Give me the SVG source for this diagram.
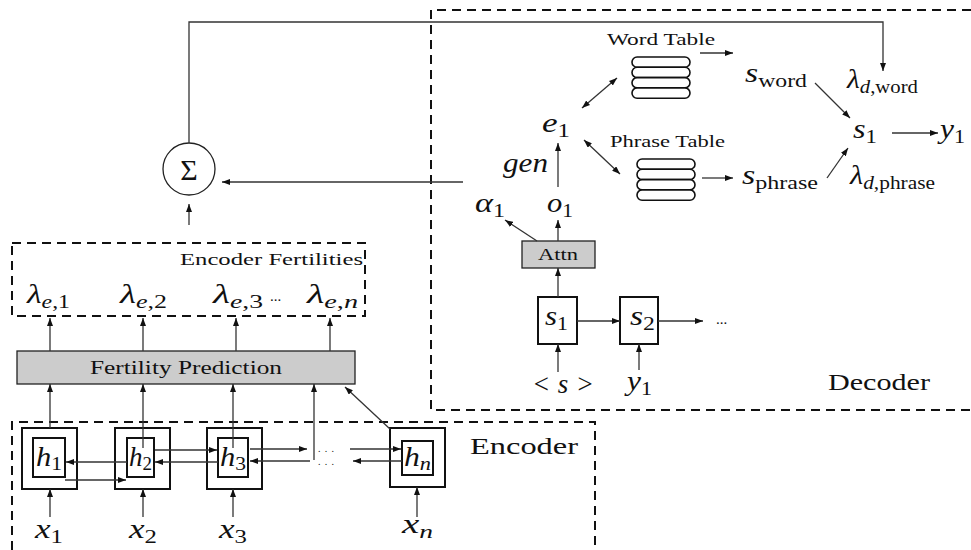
<svg xmlns="http://www.w3.org/2000/svg" width="971" height="550" viewBox="0 0 971 550" font-family="'Liberation Serif','DejaVu Serif','Times New Roman',serif">
<style>
text{font-family:'Liberation Serif','DejaVu Serif','Times New Roman',serif;fill:#111}
.m{font-style:italic;font-size:27px}
.sub{font-size:19px;font-style:normal}
.si{font-style:italic}
.c{stroke:#333;stroke-width:1.3;fill:none}
.d{stroke:#111;stroke-width:2;stroke-dasharray:9 6;fill:none}
.box{fill:#fff;stroke:#111;stroke-width:2}
.gray{fill:#ccc;stroke:#222;stroke-width:1.3}
.cap{fill:#fff;stroke:#111;stroke-width:1.6}
</style>
<defs>
<marker id="a" viewBox="0 0 8 6" refX="8" refY="3" markerWidth="8" markerHeight="6" markerUnits="userSpaceOnUse" orient="auto-start-reverse">
<path d="M0,0 L8,3 L0,6 z" fill="#111"/>
</marker>
</defs>

<g id="regions">
<path class="d" d="M971,10 H431 V410 H971"/>
<path class="d" d="M12,550 V422 H595 V550"/>
<rect class="d" x="12" y="243" width="353" height="73"/>
<text x="470" y="454" font-size="24" textLength="108" lengthAdjust="spacingAndGlyphs">Encoder</text>
<text x="828" y="390" font-size="24" textLength="102" lengthAdjust="spacingAndGlyphs">Decoder</text>
<text x="180" y="265" font-size="16" textLength="183" lengthAdjust="spacingAndGlyphs">Encoder Fertilities</text>
</g>

<g id="sigma">
<circle cx="189" cy="169" r="26" fill="#fff" stroke="#222" stroke-width="1.3"/>
<text x="189" y="180" font-size="30" text-anchor="middle">Σ</text>
</g>

<g id="fertilities">
<text class="m" x="27" y="303" textLength="43" lengthAdjust="spacingAndGlyphs">λ<tspan class="sub" dy="5"><tspan class="si">e</tspan>,1</tspan></text>
<text class="m" x="120" y="303" textLength="47" lengthAdjust="spacingAndGlyphs">λ<tspan class="sub" dy="5"><tspan class="si">e</tspan>,2</tspan></text>
<text class="m" x="213" y="303" textLength="50" lengthAdjust="spacingAndGlyphs">λ<tspan class="sub" dy="5"><tspan class="si">e</tspan>,3</tspan></text>
<text x="270" y="301" font-size="15">...</text>
<text class="m" x="307" y="303" textLength="51" lengthAdjust="spacingAndGlyphs">λ<tspan class="sub" dy="5"><tspan class="si">e</tspan>,<tspan class="si">n</tspan></tspan></text>
</g>

<g id="fertility-prediction">
<rect class="gray" x="17" y="351" width="338" height="33"/>
<text x="90" y="374" font-size="19" textLength="192" lengthAdjust="spacingAndGlyphs">Fertility Prediction</text>
</g>

<g id="h1">
<rect class="box" x="22" y="428" width="55" height="61" stroke-width="2.5"/>
<rect class="box" x="33" y="438" width="32" height="39"/>
<text class="m" x="36" y="466" font-size="24" textLength="26" lengthAdjust="spacingAndGlyphs">h<tspan class="sub" font-size="17" dy="4">1</tspan></text>
<text class="m" x="35" y="538" font-size="25" textLength="28" lengthAdjust="spacingAndGlyphs">x<tspan class="sub" font-size="18" dy="5">1</tspan></text>
</g>
<g id="h2">
<rect class="box" x="115" y="428" width="55" height="61" stroke-width="2.5"/>
<rect class="box" x="127" y="438" width="27" height="39"/>
<text class="m" x="129" y="466" font-size="24" textLength="23" lengthAdjust="spacingAndGlyphs">h<tspan class="sub" font-size="17" dy="4">2</tspan></text>
<text class="m" x="129" y="538" font-size="25" textLength="28" lengthAdjust="spacingAndGlyphs">x<tspan class="sub" font-size="18" dy="5">2</tspan></text>
</g>
<g id="h3">
<rect class="box" x="207" y="428" width="55" height="61" stroke-width="2.5"/>
<rect class="box" x="218" y="438" width="30" height="39"/>
<text class="m" x="220" y="466" font-size="24" textLength="26" lengthAdjust="spacingAndGlyphs">h<tspan class="sub" font-size="17" dy="4">3</tspan></text>
<text class="m" x="219" y="538" font-size="25" textLength="28" lengthAdjust="spacingAndGlyphs">x<tspan class="sub" font-size="18" dy="5">3</tspan></text>
</g>
<g id="dots">
<text x="318" y="452" font-size="10" textLength="16" lengthAdjust="spacing">...</text>
<text x="318" y="465" font-size="10" textLength="16" lengthAdjust="spacing">...</text>
</g>
<g id="hn">
<rect class="box" x="390" y="428" width="55" height="59" stroke-width="2.5"/>
<rect class="box" x="402" y="441" width="31" height="34"/>
<text class="m" x="404" y="466" font-size="24" textLength="27" lengthAdjust="spacingAndGlyphs">h<tspan class="sub si" font-size="17" dy="4">n</tspan></text>
<text class="m" x="402" y="533" font-size="25" textLength="31" lengthAdjust="spacingAndGlyphs">x<tspan class="sub si" font-size="18" dy="5">n</tspan></text>
</g>

<g id="decoder-nodes">
<rect class="gray" x="522" y="241" width="73" height="27"/>
<text x="538" y="260" font-size="17" textLength="40" lengthAdjust="spacingAndGlyphs">Attn</text>
<rect class="box" x="538" y="297" width="39" height="47"/>
<text class="m" x="545" y="325" textLength="23" lengthAdjust="spacingAndGlyphs">s<tspan class="sub" dy="5">1</tspan></text>
<rect class="box" x="620" y="297" width="38" height="47"/>
<text class="m" x="630" y="325" textLength="25" lengthAdjust="spacingAndGlyphs">s<tspan class="sub" dy="5">2</tspan></text>
<text x="716" y="324" font-size="15">...</text>
<text class="m" x="532" y="393" textLength="62" lengthAdjust="spacing">&lt; s &gt;</text>
<text class="m" x="627" y="390" textLength="25" lengthAdjust="spacingAndGlyphs">y<tspan class="sub" dy="5">1</tspan></text>
<text class="m" x="475" y="212" textLength="30" lengthAdjust="spacingAndGlyphs">α<tspan class="sub" dy="5">1</tspan></text>
<text class="m" x="547" y="212" textLength="26" lengthAdjust="spacingAndGlyphs">o<tspan class="sub" dy="5">1</tspan></text>
<text class="m" x="503" y="172" textLength="45" lengthAdjust="spacingAndGlyphs">gen</text>
<text class="m" x="542" y="132" textLength="28" lengthAdjust="spacingAndGlyphs">e<tspan class="sub" dy="5">1</tspan></text>
</g>

<g id="word-table">
<text x="607" y="45" font-size="16" textLength="108" lengthAdjust="spacingAndGlyphs">Word Table</text>
<rect class="cap" x="632" y="57" width="58" height="10.3" rx="5.1"/>
<rect class="cap" x="632" y="67.3" width="58" height="10.3" rx="5.1"/>
<rect class="cap" x="632" y="77.6" width="58" height="10.3" rx="5.1"/>
<rect class="cap" x="632" y="87.9" width="58" height="10.3" rx="5.1"/>
</g>
<g id="phrase-table">
<text x="610" y="147" font-size="16" textLength="115" lengthAdjust="spacingAndGlyphs">Phrase Table</text>
<rect class="cap" x="637" y="159" width="58" height="10.3" rx="5.1"/>
<rect class="cap" x="637" y="169.3" width="58" height="10.3" rx="5.1"/>
<rect class="cap" x="637" y="179.6" width="58" height="10.3" rx="5.1"/>
<rect class="cap" x="637" y="189.9" width="58" height="10.3" rx="5.1"/>
</g>
<g id="scores">
<text class="m" x="745" y="82" textLength="62" lengthAdjust="spacingAndGlyphs">s<tspan class="sub" dy="5">word</tspan></text>
<text class="m" x="742" y="184" textLength="76" lengthAdjust="spacingAndGlyphs">s<tspan class="sub" dy="5">phrase</tspan></text>
<text class="m" x="847" y="88" textLength="71" lengthAdjust="spacingAndGlyphs">λ<tspan class="sub" dy="5"><tspan class="si">d</tspan>,word</tspan></text>
<text class="m" x="850" y="184" textLength="85" lengthAdjust="spacingAndGlyphs">λ<tspan class="sub" dy="5"><tspan class="si">d</tspan>,phrase</tspan></text>
<text class="m" x="853" y="138" textLength="24" lengthAdjust="spacingAndGlyphs">s<tspan class="sub" dy="5">1</tspan></text>
<text class="m" x="940" y="138" textLength="25" lengthAdjust="spacingAndGlyphs">y<tspan class="sub" dy="5">1</tspan></text>
</g>

<g id="connectors" marker-end="url(#a)">
<path class="c" d="M189,143 V22 H883 V71"/>
<path class="c" d="M463,182 H222"/>
<path class="c" d="M189,225 V204"/>
<path class="c" d="M700,53 H733"/>
<path class="c" d="M702,178 H733"/>
<path class="c" d="M582,108 L617,78" marker-start="url(#a)"/>
<path class="c" d="M584,140 L620,174" marker-start="url(#a)"/>
<path class="c" d="M815,83 L850,118"/>
<path class="c" d="M827,178 L848,148"/>
<path class="c" d="M892,133 H938"/>
<path class="c" d="M558,187 V143"/>
<path class="c" d="M558,241 V220"/>
<path class="c" d="M537,241 L505,220"/>
<path class="c" d="M558,297 V268"/>
<path class="c" d="M558,372 V344"/>
<path class="c" d="M639,370 V344"/>
<path class="c" d="M577,321 H620"/>
<path class="c" d="M658,321 H703"/>
<path class="c" d="M50,351 V318"/>
<path class="c" d="M143,351 V318"/>
<path class="c" d="M236,351 V318"/>
<path class="c" d="M330,351 V318"/>
<path class="c" d="M50,428 V384"/>
<path class="c" d="M143,448 V384"/>
<path class="c" d="M233,448 V384"/>
<path class="c" d="M314,460 V384"/>
<path class="c" d="M390,429 L345,387"/>
<path class="c" d="M50,517 V489"/>
<path class="c" d="M143,517 V489"/>
<path class="c" d="M233,517 V489"/>
<path class="c" d="M417,517 V487"/>
<path class="c" d="M65,480 H126"/>
<path class="c" d="M127,462 H66"/>
<path class="c" d="M155,450 H217"/>
<path class="c" d="M218,462 H155"/>
<path class="c" d="M250,449 H307"/>
<path class="c" d="M310,461 H250"/>
<path class="c" d="M350,449 H401"/>
<path class="c" d="M402,461 H353"/>
</g>
</svg>
